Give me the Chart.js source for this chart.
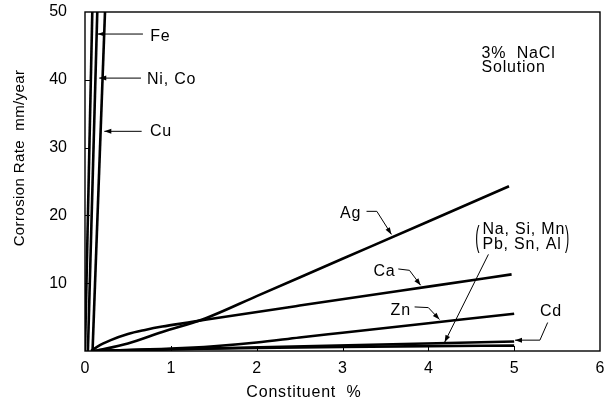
<!DOCTYPE html>
<html>
<head>
<meta charset="utf-8">
<title>Corrosion rate in 3% NaCl</title>
<script src="https://cdn.jsdelivr.net/npm/chart.js@4.4.1/dist/chart.umd.min.js"></script>
<style>
  html, body { margin: 0; padding: 0; background: #fff; }
  #wrap { width: 610px; height: 405px; }
</style>
</head>
<body>
<div id="wrap"><canvas id="corrosionChart" width="610" height="405"></canvas></div>
<script>
// Axis ticks
const xTicks = [0, 1, 2, 3, 4, 5, 6];
const yTicks = [0, 10, 20, 30, 40, 50];

// Curves (x = constituent %, y = mm/year)
const feX = [0.0, 0.085];
const feY = [0, 50];
const niCoX = [0.034, 0.143];
const niCoY = [0, 50];
const cuX = [0.088, 0.233];
const cuY = [0, 50];
const agX = [0.12, 0.5, 0.9, 1.4, 2.0, 3.0, 4.0, 4.94];
const agY = [0, 1.1, 2.8, 4.8, 8.1, 13.6, 19.1, 24.3];
const caX = [0.07, 0.15, 0.3, 0.5, 0.7, 0.9, 1.2, 1.4, 2.5, 4.0, 4.97];
const caY = [0, 0.7, 1.6, 2.5, 3.1, 3.6, 4.2, 4.6, 6.7, 9.5, 11.3];
const znX = [0.1, 1.0, 1.5, 2.0, 2.5, 3.0, 4.0, 5.0];
const znY = [0, 0.35, 0.7, 1.25, 2.0, 2.7, 4.1, 5.5];
const cdX = [0.1, 5.0];
const cdY = [0, 1.4];
const groupX = [0.1, 1, 2, 3, 4, 5];
const groupY = [0, 0.25, 0.45, 0.6, 0.72, 0.8];

const FONT = '"Liberation Sans", Arial, Helvetica, sans-serif';

const toPoints = (xs, ys) => xs.map((x, i) => ({ x: x, y: ys[i] }));

function curve(label, xs, ys, smooth) {
  return {
    label: label,
    data: toPoints(xs, ys),
    showLine: true,
    borderColor: '#000',
    backgroundColor: '#000',
    borderWidth: 2.6,
    pointRadius: 0,
    fill: false,
    cubicInterpolationMode: smooth ? 'monotone' : 'default'
  };
}

// Labels with leader arrows; `at` and `path` are in data units
const callouts = [
  { lines: ['Fe'], at: [0.76, 46.3], path: [[0.675, 46.75], [0.148, 46.75]] },
  { lines: ['Ni, Co'], at: [0.722, 40.0], path: [[0.652, 40.25], [0.166, 40.25]] },
  { lines: ['Cu'], at: [0.757, 32.3], path: [[0.66, 32.4], [0.225, 32.4]] },
  { lines: ['Ag'], at: [2.97, 20.3], path: [[3.28, 20.6], [3.40, 20.6], [3.57, 17.2]] },
  { lines: ['Ca'], at: [3.36, 11.75], path: [[3.65, 12.1], [3.78, 11.9], [3.91, 9.7]] },
  { lines: ['Zn'], at: [3.56, 6.0], path: [[3.84, 6.5], [4.0, 6.4], [4.13, 4.65]] },
  { lines: ['Cd'], at: [5.30, 5.85], path: [[5.39, 4.2], [5.30, 1.6], [5.01, 1.6]] },
  { lines: ['Na, Si, Mn', 'Pb, Sn, Al'], at: [4.63, 17.9], path: [[4.70, 14.25], [4.19, 1.3]], parens: true },
  { lines: ['3%  NaCl', 'Solution'], at: [4.62, 43.9] }
];

// Box around the plot and inward tick marks
const frameAndTicks = {
  id: 'frameAndTicks',
  afterDraw(chart) {
    const { ctx, chartArea: a, scales: { x, y } } = chart;
    ctx.save();
    ctx.strokeStyle = '#000';
    ctx.lineWidth = 1.4;
    ctx.strokeRect(a.left, a.top, a.right - a.left, a.bottom - a.top);
    ctx.lineWidth = 1;
    ctx.beginPath();
    xTicks.slice(1, -1).forEach(v => {
      const px = Math.round(x.getPixelForValue(v)) + 0.5;
      ctx.moveTo(px, a.bottom);
      ctx.lineTo(px, a.bottom - 5);
    });
    yTicks.slice(1, -1).forEach(v => {
      const py = Math.round(y.getPixelForValue(v)) + 0.5;
      ctx.moveTo(a.left, py);
      ctx.lineTo(a.left + 5, py);
    });
    ctx.stroke();
    ctx.restore();
  }
};

// Axis titles (not centred on the plot in the original)
const axisTitles = {
  id: 'axisTitles',
  afterDraw(chart) {
    const ctx = chart.ctx;
    ctx.save();
    ctx.fillStyle = '#000';
    ctx.textAlign = 'center';
    ctx.textBaseline = 'middle';
    ctx.font = '16px ' + FONT;
    ctx.letterSpacing = '0.8px';
    ctx.fillText('Constituent  %', 304, 393);
    ctx.letterSpacing = '0.4px';
    ctx.font = '15px ' + FONT;
    ctx.translate(20, 158);
    ctx.rotate(-Math.PI / 2);
    ctx.fillText('Corrosion Rate  mm/year', 0, 0);
    ctx.restore();
  }
};

function arrowHead(ctx, from, to) {
  const ang = Math.atan2(to[1] - from[1], to[0] - from[0]);
  const len = 7, half = 2.5;
  ctx.beginPath();
  ctx.moveTo(to[0], to[1]);
  ctx.lineTo(to[0] - len * Math.cos(ang) + half * Math.sin(ang), to[1] - len * Math.sin(ang) - half * Math.cos(ang));
  ctx.lineTo(to[0] - len * Math.cos(ang) - half * Math.sin(ang), to[1] - len * Math.sin(ang) + half * Math.cos(ang));
  ctx.closePath();
  ctx.fill();
}

const calloutPlugin = {
  id: 'callouts',
  afterDatasetsDraw(chart) {
    const { ctx, scales: { x, y } } = chart;
    const px = p => [x.getPixelForValue(p[0]), y.getPixelForValue(p[1])];
    ctx.save();
    ctx.fillStyle = '#000';
    ctx.strokeStyle = '#000';
    ctx.lineWidth = 1;
    ctx.font = '16px ' + FONT;
    ctx.letterSpacing = '0.8px';
    ctx.textAlign = 'left';
    ctx.textBaseline = 'middle';
    callouts.forEach(c => {
      const [tx, ty] = px(c.at);
      const lineGap = 14.5;
      let widest = 0;
      c.lines.forEach((t, i) => {
        ctx.fillText(t, tx, ty + i * lineGap);
        widest = Math.max(widest, ctx.measureText(t).width);
      });
      if (c.parens) {
        const cy = ty + lineGap / 2;
        ctx.save();
        ctx.letterSpacing = '0px';
        ctx.font = '15px ' + FONT;
        ctx.textAlign = 'center';
        ctx.textBaseline = 'middle';
        [[tx - 5, '('], [tx + widest + 2, ')']].forEach(([ppx, ch]) => {
          ctx.save();
          ctx.translate(ppx, cy);
          ctx.scale(0.85, 2.0);
          ctx.fillText(ch, 0, 1);
          ctx.restore();
        });
        ctx.restore();
      }
      if (c.path) {
        const pts = c.path.map(px);
        ctx.beginPath();
        pts.forEach((p, i) => (i ? ctx.lineTo(p[0], p[1]) : ctx.moveTo(p[0], p[1])));
        ctx.stroke();
        arrowHead(ctx, pts[pts.length - 2], pts[pts.length - 1]);
      }
    });
    ctx.restore();
  }
};

new Chart(document.getElementById('corrosionChart'), {
  type: 'scatter',
  data: {
    datasets: [
      curve('Fe', feX, feY, false),
      curve('Ni, Co', niCoX, niCoY, false),
      curve('Cu', cuX, cuY, false),
      curve('Ag', agX, agY, true),
      curve('Ca', caX, caY, true),
      curve('Zn', znX, znY, true),
      curve('Cd', cdX, cdY, false),
      curve('Na, Si, Mn, Pb, Sn, Al', groupX, groupY, true)
    ]
  },
  options: {
    responsive: false,
    animation: false,
    layout: { padding: { top: 12, right: 10, left: 0, bottom: 0 } },
    plugins: {
      legend: { display: false },
      tooltip: { enabled: false }
    },
    scales: {
      x: {
        type: 'linear',
        min: 0,
        max: 6,
        afterBuildTicks: s => { s.ticks = xTicks.map(v => ({ value: v })); },
        afterFit: s => { s.height = 54; s.paddingLeft = 0; s.paddingRight = 0; },
        grid: { display: false, drawTicks: false },
        border: { display: false },
        ticks: { color: '#000', font: { family: FONT, size: 16 }, padding: 8, maxRotation: 0 }
      },
      y: {
        type: 'linear',
        min: 0,
        max: 50,
        afterBuildTicks: s => { s.ticks = yTicks.map(v => ({ value: v })); },
        afterFit: s => { s.width = 85; s.paddingTop = 0; s.paddingBottom = 0; },
        grid: { display: false, drawTicks: false },
        border: { display: false },
        ticks: {
          color: '#000',
          font: { family: FONT, size: 16 },
          padding: 18,
          callback: v => (v === 0 ? '' : v)
        }
      }
    }
  },
  plugins: [frameAndTicks, axisTitles, calloutPlugin]
});
</script>
</body>
</html>
